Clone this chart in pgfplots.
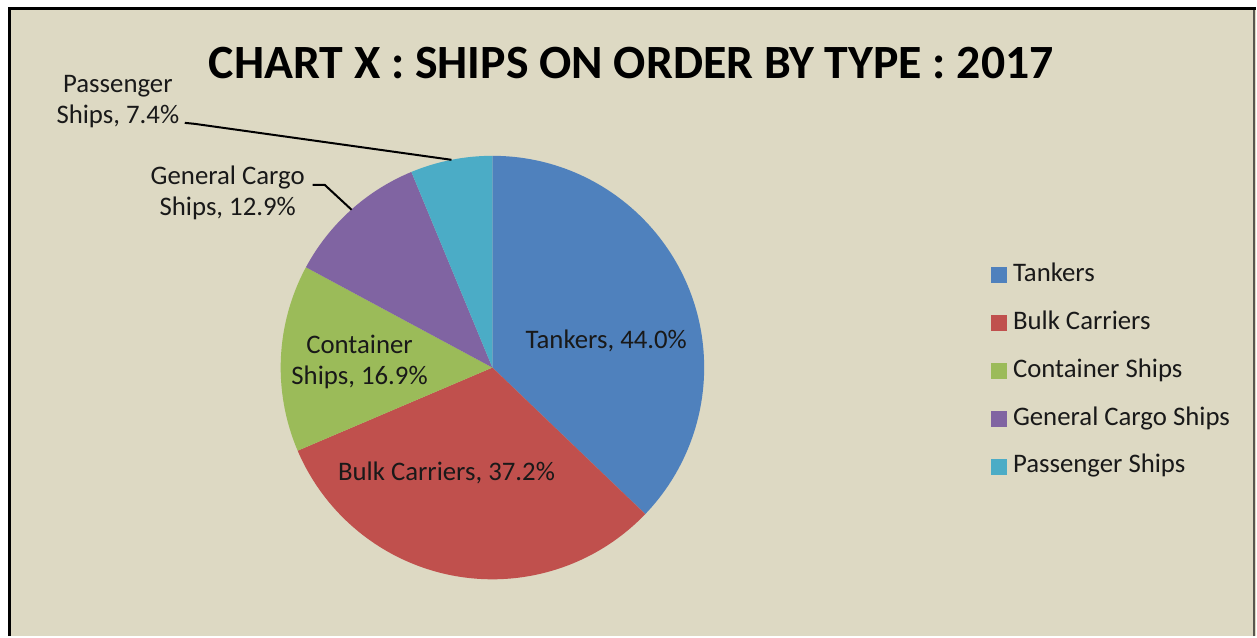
\documentclass[border=0pt]{standalone}
\usepackage{pgfplots}
\pgfplotsset{compat=1.18}
\usepackage{pgfplotstable}
\usepackage{fontspec}
\setmainfont{Carlito}
\definecolor{bgtan}{RGB}{221,217,195}
\definecolor{cTank}{RGB}{79,129,189}
\definecolor{cBulk}{RGB}{192,80,77}
\definecolor{cCont}{RGB}{155,187,89}
\definecolor{cGen}{RGB}{128,100,162}
\definecolor{cPass}{RGB}{75,172,198}

\pgfplotstableread{
name value
Tankers 44.0
Bulk 37.2
Container 16.9
General 12.9
Passenger 7.4
}\shipdata

\begin{document}
\begin{tikzpicture}
\pgfplotstablegetelem{0}{value}\of\shipdata \let\vA\pgfplotsretval
\pgfplotstablegetelem{1}{value}\of\shipdata \let\vB\pgfplotsretval
\pgfplotstablegetelem{2}{value}\of\shipdata \let\vC\pgfplotsretval
\pgfplotstablegetelem{3}{value}\of\shipdata \let\vD\pgfplotsretval
\pgfplotstablegetelem{4}{value}\of\shipdata \let\vE\pgfplotsretval
\pgfmathsetmacro\tot{\vA+\vB+\vC+\vD+\vE}
\pgfmathsetmacro\aA{90-360*\vA/\tot}
\pgfmathsetmacro\aB{\aA-360*\vB/\tot}
\pgfmathsetmacro\aC{\aB-360*\vC/\tot}
\pgfmathsetmacro\aD{\aC-360*\vD/\tot}
\pgfmathsetmacro\aE{\aD-360*\vE/\tot}
\begin{axis}[
  width=628.5pt, height=318.5pt, scale only axis,
  xmin=0, xmax=1257, ymin=0, ymax=637,
  hide axis, clip=false,
  legend cell align=left,
  legend style={draw=none, fill=none, inner sep=0pt, anchor=north west,
    at={(0.7892,0.5885)}, row sep=11.5pt,
    nodes={font=\fontsize{13.4}{16}\selectfont, text height=9.5pt, text depth=3pt, inner sep=0pt, text=black!90},
    column sep=3pt},
  legend image code/.code={\fill[#1] (0pt,-3.75pt) rectangle (7.5pt,3.75pt);},
]
% background frame
\fill[bgtan] (axis cs:8,0) rectangle (axis cs:1257,628);
\draw[black, line width=1.5pt] (axis cs:9.5,0) -- (axis cs:9.5,628) -- (axis cs:1257,628);
\draw[black!60!bgtan, line width=0.8pt] (axis cs:1255.5,0) -- (axis cs:1255.5,627);
\path (axis cs:0,0) rectangle (axis cs:1257,637);

% pie slices
\fill[cTank] (axis cs:493,269) -- ++(90:106pt) arc[start angle=90, end angle=\aA, radius=106pt] -- cycle;
\fill[cBulk] (axis cs:493,269) -- ++(\aA:106pt) arc[start angle=\aA, end angle=\aB, radius=106pt] -- cycle;
\fill[cCont] (axis cs:493,269) -- ++(\aB:106pt) arc[start angle=\aB, end angle=\aC, radius=106pt] -- cycle;
\fill[cGen] (axis cs:493,269) -- ++(\aC:106pt) arc[start angle=\aC, end angle=\aD, radius=106pt] -- cycle;
\fill[cPass] (axis cs:493,269) -- ++(\aD:106pt) arc[start angle=\aD, end angle=\aE, radius=106pt] -- cycle;

\addlegendimage{cTank}\addlegendentry{Tankers}
\addlegendimage{cBulk}\addlegendentry{Bulk Carriers}
\addlegendimage{cCont}\addlegendentry{Container Ships}
\addlegendimage{cGen}\addlegendentry{General Cargo Ships}
\addlegendimage{cPass}\addlegendentry{Passenger Ships}

% title
\node[font=\bfseries\fontsize{23.9}{28}\selectfont] at (axis cs:632,574) {CHART X : SHIPS ON ORDER BY TYPE : 2017};

% data labels
\begin{scope}[every node/.style={font=\fontsize{13.4}{15.5}\selectfont, align=center, text=black!90}]
\node at (axis cs:118,535) {Passenger\\Ships, 7.4\%};
\node at (axis cs:228,444) {General Cargo\\Ships, 12.9\%};
\node at (axis cs:360,275) {Container\\Ships, 16.9\%};
\node at (axis cs:607,296) {Tankers, 44.0\%};
\node at (axis cs:447,164) {Bulk Carriers, 37.2\%};
\end{scope}
% leader lines
\draw[black, line width=1pt] (axis cs:185,514) -- (axis cs:195,513) -- (axis cs:452,477);
\draw[black, line width=1pt] (axis cs:313,452) -- (axis cs:325,452) -- (axis cs:352,427);
\end{axis}
\end{tikzpicture}
\end{document}
